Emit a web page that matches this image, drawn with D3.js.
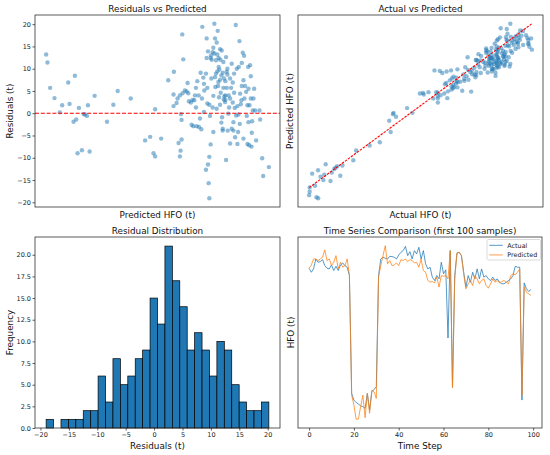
<!DOCTYPE html>
<html>
<head>
<meta charset="utf-8">
<script src="https://cdn.jsdelivr.net/npm/d3@7"></script>
<style>
    body { margin: 0; background: #fff; }
    svg { font-family: "DejaVu Sans", sans-serif; }
    .axis path.domain { display: none; }
    .axis line { stroke: #333; stroke-width: 0.8; }
    .axis text { font-size: 6.5px; fill: #222; font-family: "DejaVu Sans", sans-serif; }
    .title, .label { font-size: 8.8px; fill: #111; }
    .legend text { font-size: 6.4px; fill: #222; }
</style>
</head>
<body>
<div id="chart"></div>
<script>
// Model predictions on the test set and their residuals (actual - predicted), in tonnes
const predicted = [
    12.0, 12.8, 14.4, 17.0, 20.2, 21.6, 25.2, 26.0, 28.4, 29.2, 30.0, 30.8, 31.6, 33.4, 34.4,
    35.2, 36.4, 37.0, 38.0, 41.0, 48.4, 52.2, 54.8, 62.6, 71.2, 74.2, 76.2, 77.2, 77.2, 80.8,
    85.0, 88.4, 88.2, 88.2, 90.0, 90.6, 91.2, 92.0, 92.4, 93.0,
    92.6, 93.0, 92.0, 93.4, 94.0, 93.6, 95.0, 96.0, 96.6, 97.0,
    98.6, 99.0, 99.6, 100.0, 100.6, 101.6, 101.6, 102.0, 103.4, 104.0,
    104.4, 104.8, 105.4, 106.0, 106.6, 107.6, 108.0, 108.0, 108.4, 108.4,
    108.8, 108.8, 109.2, 109.6, 109.6, 109.6, 110.0, 110.4, 110.4, 111.0,
    111.6, 112.0, 112.0, 112.6, 112.6, 113.0, 113.0, 113.2, 113.6, 114.0,
    114.4, 114.6, 115.0, 115.2, 115.4, 115.6, 116.0, 116.0, 116.4, 116.8,
    117.0, 117.2, 117.6, 117.6, 118.0, 118.2, 118.4, 118.6, 119.0, 119.2,
    119.6, 119.6, 120.0, 120.4, 120.6, 121.0, 121.4, 122.0, 122.6, 123.0,
    123.6, 124.0, 124.4, 125.0, 125.4, 125.6, 126.0, 126.4, 126.8, 127.0,
    127.2, 127.6, 127.8, 128.0, 128.4, 128.8, 129.0, 129.6, 130.0, 130.0,
    130.4, 131.0, 131.6, 132.0, 132.4, 132.8, 133.0, 133.4, 133.6, 134.0,
    134.4, 134.4, 134.8, 135.0, 135.2, 135.6, 137.0, 137.6, 139.6, 140.0,
    141.2, 141.8, 145.2, 136.4,
    110.6, 111.6, 114.4, 116.2, 118.0, 115.2, 113.6, 116.8, 119.2, 114.8,
    120.0, 121.2, 122.0, 119.2, 123.6, 126.4, 124.8, 116.0, 114.0, 106.4,
    105.2, 103.2, 106.4, 110.8, 122.0, 124.4, 129.0, 130.6, 132.4, 136.0,
    117.6, 112.0, 124.0, 133.0, 101.0, 97.4, 102.4, 107.6, 120.4, 123.0
];
const residuals = [
    13.2, 11.4, 5.7, 3.4, 0.2, 1.8, 6.9, 2.1, -1.9, 8.4, -1.4, -9.0, 1.2, -8.3, -0.2,
    -0.3, -0.6, 1.8, -8.6, 3.9, -1.9, 1.9, 5.0, 3.3, -6.1, -5.3, -9.0, -9.7, 0.9, -5.7,
    7.4, 9.3, 4.2, 1.6, 2.3, 3.3, -6.7, -9.7, -8.4, -5.9,
    -0.2, -1.5, 4.0, 17.7, 12.1, 4.5, 5.1, 4.9, 6.8, 4.5,
    2.4, -2.6, 3.0, -2.9, 2.9, 5.7, 1.3, -2.9, -3.1, -1.2,
    9.1, -3.6, 19.4, 8.0, 5.1, -12.7, 16.8, 12.4, 5.7, 2.2,
    13.9, -11.5, -15.7, -19.1, 1.9, -9.8, -0.6, -7.0, 12.4, 12.0,
    1.3, 14.7, 3.9, 20.1, 13.4, 16.8, 8.1, 5.9, 11.9, 15.9,
    9.4, 18.5, 7.0, 12.4, 3.6, 9.8, 14.4, 7.5, 4.6, -2.1,
    14.1, -0.9, 9.1, -3.5, 5.7, 3.1, 7.8, 3.8, 2.5, 3.0,
    12.6, -10.5, 9.3, 8.7, -3.9, -0.1, 1.3, -6.8, 5.7, -3.5,
    6.9, -3.9, 4.6, -5.4, 19.8, -0.5, 10.0, -6.9, -4.2, -0.3,
    10.4, 16.2, -2.4, 4.4, 2.0, 2.9, 11.3, 13.6, 7.4, -5.7,
    12.9, 6.1, 4.8, -0.6, -6.9, 10.4, 5.5, -7.2, 1.8, 10.8,
    8.3, 3.3, -7.5, -4.4, -1.8, 0.6, 0.6, -6.1, 0.6, -1.4,
    -10.1, -14.1, -12.1, 5.5,
    13.0, 13.7, 13.2, 12.0, 11.5, 10.4, 8.9, 8.5, 7.2, 6.1,
    5.7, 4.0, 3.3, 4.0, 2.4, 1.6, 1.2, 1.9, 1.0, 0.3,
    3.3, 4.0, 6.6, 7.8, 7.8, 8.9, 6.1, 3.3, 1.8, 3.3,
    -3.9, -4.2, -2.0, -2.0, 4.0, 2.7, 7.2, 8.9, 10.0, 11.1
];

// Residual histogram: 30 bins between the edges below
const histRange = [-19.0, 20.2];
const histCounts = [1, 0, 1, 1, 1, 2, 2, 6, 3, 8, 5, 6, 8, 9, 15,
                    12, 21, 17, 14, 9, 11, 9, 6, 10, 9, 5, 3, 2, 2, 3];

// First 100 test samples (t)
const tsActual = [
    130.5, 127.5, 130.0, 137.5, 135.0, 135.5, 137.0, 132.5, 130.5, 130.0,
    133.0, 128.8, 132.0, 128.8, 133.0, 134.5, 132.5, 131.3, 125.0, 36.3,
    31.3, 29.5, 28.3, 27.0, 26.3, 25.0, 36.3, 23.8, 37.5, 39.3,
    41.3, 125.0, 137.5, 138.8, 138.0, 137.5, 139.5, 139.3, 138.8, 137.5,
    140.5, 142.5, 143.8, 147.0, 140.0, 143.0, 137.5, 143.8, 141.3, 146.3,
    137.5, 143.8, 133.8, 130.0, 131.3, 123.8, 121.3, 125.0, 122.5, 135.0,
    126.3, 129.3, 78.0, 143.8, 40.8, 125.0, 142.0, 142.5, 140.0, 127.5,
    116.3, 125.0, 120.0, 127.5, 122.5, 130.0, 122.5, 130.0, 123.8, 125.0,
    122.5, 121.3, 123.8, 121.3, 122.5, 120.0, 118.8, 118.8, 120.0, 121.3,
    122.5, 125.0, 132.0, 131.3, 131.3, 31.3, 119.5, 115.0, 113.0, 114.5
];
const tsPredicted = [
    130.5, 133.0, 137.5, 137.5, 136.3, 137.5, 138.8, 144.3, 136.3, 137.5,
    132.5, 135.0, 140.0, 130.0, 135.0, 131.3, 132.5, 137.5, 125.0, 35.0,
    27.5, 16.8, 17.0, 26.3, 35.0, 18.0, 36.3, 21.3, 38.8, 37.5,
    32.5, 123.8, 132.5, 140.0, 147.5, 133.8, 136.3, 132.5, 133.0, 134.5,
    132.5, 137.0, 136.3, 137.5, 135.5, 137.0, 136.3, 134.5, 135.0, 131.3,
    137.5, 128.8, 127.5, 121.3, 120.0, 120.5, 119.5, 123.8, 116.3, 125.0,
    124.5, 125.0, 122.5, 143.8, 40.8, 122.5, 142.0, 142.5, 140.0, 126.3,
    115.0, 118.8, 121.3, 117.5, 125.0, 122.5, 118.8, 121.3, 122.5, 117.5,
    115.5, 118.8, 122.5, 120.0, 121.3, 119.5, 120.5, 121.3, 120.0, 118.8,
    125.0, 126.3, 125.5, 127.5, 130.0, 35.0, 116.3, 112.5, 111.3, 110.0
];

// Tick values
const residTicks = [-20, -15, -10, -5, 0, 5, 10, 15, 20];
const freqTicks = [0, 2.5, 5, 7.5, 10, 12.5, 15, 17.5, 20];
const histTicks = [-20, -15, -10, -5, 0, 5, 10, 15, 20];
const stepTicks = [0, 20, 40, 60, 80, 100];

const blue = "#1f77b4";
const orange = "#ff7f0e";

// matplotlib style 5% margins around the data
function padDomain(values) {
    const [lo, hi] = d3.extent(values);
    const pad = (hi - lo) * 0.05;
    return [lo - pad, hi + pad];
}

const svg = d3.select("#chart")
    .append("svg")
    .attr("width", 550)
    .attr("height", 455);

// subplot boxes (2x2 grid); yLab = distance of the y label from the left spine
const panels = [
    { x: 35, y: 15, w: 245, h: 192, yLab: 25 },
    { x: 298, y: 15, w: 245, h: 192, yLab: 8 },
    { x: 35, y: 237, w: 245, h: 191, yLab: 25 },
    { x: 298, y: 237, w: 244, h: 191, yLab: 7.5 }
];

function makePanel(p, title, xLabel, yLabel, xLabelGap) {
    const g = svg.append("g").attr("transform", `translate(${p.x},${p.y})`);
    svg.append("text").attr("class", "title")
        .attr("x", p.x + p.w / 2).attr("y", p.y - 3)
        .attr("text-anchor", "middle").text(title);
    svg.append("text").attr("class", "label")
        .attr("x", p.x + p.w / 2).attr("y", p.y + p.h + xLabelGap)
        .attr("text-anchor", "middle").text(xLabel);
    svg.append("text").attr("class", "label")
        .attr("transform", `translate(${p.x - p.yLab},${p.y + p.h / 2}) rotate(-90)`)
        .attr("dy", "0.35em")
        .attr("text-anchor", "middle").text(yLabel);
    return g;
}

function drawFrame(g, p) {
    g.append("rect")
        .attr("width", p.w).attr("height", p.h)
        .attr("fill", "none").attr("stroke", "#333").attr("stroke-width", 0.8);
}

// ---- Residuals vs Predicted ----
const p1 = panels[0];
const g1 = makePanel(p1, "Residuals vs Predicted", "Predicted HFO (t)", "Residuals (t)", 11);
const x1 = d3.scaleLinear().domain(padDomain(predicted)).range([0, p1.w]);
const y1 = d3.scaleLinear().domain(padDomain(residuals)).range([p1.h, 0]);

g1.append("g").attr("class", "axis")
    .call(d3.axisLeft(y1).tickValues(residTicks).tickSize(2.5).tickPadding(1.5).tickFormat(d3.format("d")));

g1.selectAll(".dot")
    .data(predicted)
    .enter().append("circle")
    .attr("class", "dot")
    .attr("cx", d => x1(d))
    .attr("cy", (d, i) => y1(residuals[i]))
    .attr("r", 2.2)
    .attr("fill", blue)
    .attr("fill-opacity", 0.5);

g1.append("line")
    .attr("x1", 0).attr("x2", p1.w)
    .attr("y1", y1(0)).attr("y2", y1(0))
    .attr("stroke", "red").attr("stroke-width", 1.1)
    .attr("stroke-dasharray", "4,1.8");
drawFrame(g1, p1);

// ---- Actual vs Predicted ----
const actual = predicted.map((d, i) => d + residuals[i]);
const p2 = panels[1];
const g2 = makePanel(p2, "Actual vs Predicted", "Actual HFO (t)", "Predicted HFO (t)", 11);
const x2 = d3.scaleLinear().domain(padDomain(actual)).range([0, p2.w]);
const y2 = d3.scaleLinear().domain(padDomain(predicted)).range([p2.h, 0]);

g2.selectAll(".dot")
    .data(actual)
    .enter().append("circle")
    .attr("class", "dot")
    .attr("cx", d => x2(d))
    .attr("cy", (d, i) => y2(predicted[i]))
    .attr("r", 2.2)
    .attr("fill", blue)
    .attr("fill-opacity", 0.5);

const [aMin, aMax] = d3.extent(actual);
g2.append("line")
    .attr("x1", x2(aMin)).attr("y1", y2(aMin))
    .attr("x2", x2(aMax)).attr("y2", y2(aMax))
    .attr("stroke", "red").attr("stroke-width", 1.1)
    .attr("stroke-dasharray", "2.5,1.2");
drawFrame(g2, p2);

// ---- Residual Distribution ----
const p3 = panels[2];
const g3 = makePanel(p3, "Residual Distribution", "Residuals (t)", "Frequency", 21);
const binW = (histRange[1] - histRange[0]) / histCounts.length;
const x3 = d3.scaleLinear().domain(padDomain(histRange)).range([0, p3.w]);
const y3 = d3.scaleLinear().domain([0, d3.max(histCounts) * 1.05]).range([p3.h, 0]);

g3.append("g").attr("class", "axis")
    .call(d3.axisLeft(y3).tickValues(freqTicks).tickSize(2.5).tickPadding(1.5).tickFormat(d3.format(".1f")));
g3.append("g").attr("class", "axis")
    .attr("transform", `translate(0,${p3.h})`)
    .call(d3.axisBottom(x3).tickValues(histTicks).tickSize(2.5).tickPadding(1.7).tickFormat(d3.format("d")));

g3.selectAll(".bar")
    .data(histCounts)
    .enter().append("rect")
    .attr("class", "bar")
    .attr("x", (d, i) => x3(histRange[0] + i * binW))
    .attr("width", x3(binW) - x3(0))
    .attr("y", d => y3(d))
    .attr("height", d => y3(0) - y3(d))
    .attr("fill", blue)
    .attr("stroke", "#000")
    .attr("stroke-width", 0.7);
drawFrame(g3, p3);

// ---- Time Series Comparison ----
const p4 = panels[3];
const g4 = makePanel(p4, "Time Series Comparison (first 100 samples)", "Time Step", "HFO (t)", 21);
const steps = d3.range(tsActual.length);
const x4 = d3.scaleLinear().domain(padDomain(steps)).range([0, p4.w]);
const y4 = d3.scaleLinear().domain(padDomain(tsActual.concat(tsPredicted))).range([p4.h, 0]);

g4.append("g").attr("class", "axis")
    .attr("transform", `translate(0,${p4.h})`)
    .call(d3.axisBottom(x4).tickValues(stepTicks).tickSize(2.5).tickPadding(1.7).tickFormat(d3.format("d")));

const line = values => d3.line()
    .x((d, i) => x4(steps[i]))
    .y(d => y4(d))(values);

g4.append("path")
    .attr("d", line(tsActual))
    .attr("fill", "none").attr("stroke", blue)
    .attr("stroke-width", 1).attr("stroke-opacity", 0.75);
g4.append("path")
    .attr("d", line(tsPredicted))
    .attr("fill", "none").attr("stroke", orange)
    .attr("stroke-width", 1).attr("stroke-opacity", 0.75);
drawFrame(g4, p4);

// legend, upper right
const legend = g4.append("g").attr("class", "legend")
    .attr("transform", `translate(${p4.w - 55},2.5)`);
legend.append("rect")
    .attr("width", 53.5).attr("height", 20.5).attr("rx", 1.5)
    .attr("fill", "#fff").attr("fill-opacity", 0.8)
    .attr("stroke", "#ccc").attr("stroke-width", 0.7);
[["Actual", blue], ["Predicted", orange]].forEach(([name, color], i) => {
    const yy = 5.8 + i * 9.6;
    legend.append("line")
        .attr("x1", 2.3).attr("x2", 15.8).attr("y1", yy).attr("y2", yy)
        .attr("stroke", color).attr("stroke-width", 1).attr("stroke-opacity", 0.75);
    legend.append("text")
        .attr("x", 20.3).attr("y", yy).attr("dy", "0.35em")
        .text(name);
});
</script>
</body>
</html>
